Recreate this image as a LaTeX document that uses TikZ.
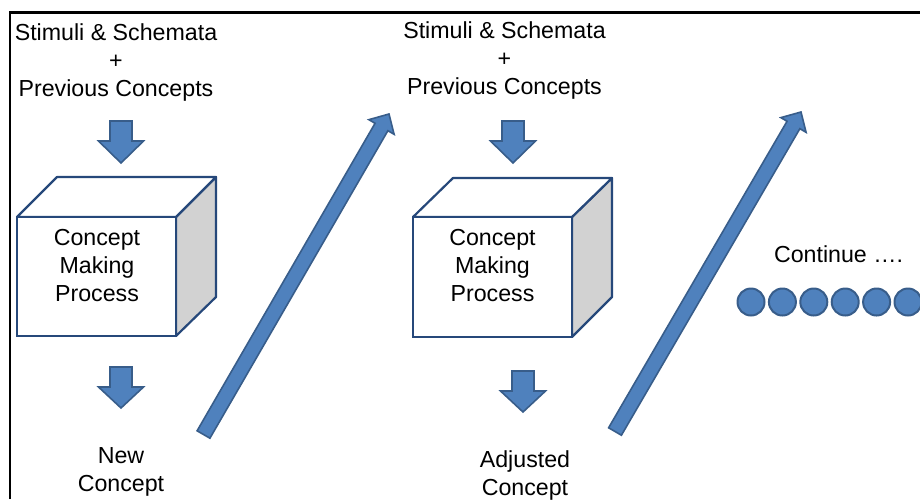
\documentclass[tikz,border=0pt]{standalone}
\usepackage{fontspec}
\setmainfont{Liberation Sans}
\usetikzlibrary{calc}
\usetikzlibrary{positioning}

\definecolor{arrfill}{RGB}{79,129,189}
\definecolor{arrline}{RGB}{56,93,138}
\definecolor{cubeline}{RGB}{38,72,122}
\definecolor{cubeside}{RGB}{210,210,210}

\tikzset{
  txt/.style={align=center, inner sep=0pt, font=\fontsize{11.6}{14}\selectfont},
  blockarr/.style={fill=arrfill, draw=arrline, line width=0.8pt, line join=miter},
  face/.style={draw=cubeline, line width=1.1pt, fill=white, inner sep=0pt},
  dot/.style={circle, fill=arrfill, draw=arrline, line width=1pt, minimum size=13.5pt, inner sep=0pt},
}

% block arrow: tail, tip, shaft half width, head half width, head length
\newcommand{\blockarrow}[5]{%
  \coordinate (#2-base) at ($(#2)!#5!(#1)$);
  \draw[blockarr] ($(#1)!#3!90:(#2)$) -- ($(#2-base)!#3!90:(#2)$)
    -- ($(#2-base)!#4!90:(#2)$) -- (#2) -- ($(#2-base)!#4!-90:(#2)$)
    -- ($(#2-base)!#3!-90:(#2)$) -- ($(#1)!#3!-90:(#2)$) -- cycle;}

\begin{document}
\begin{tikzpicture}[x=0.5pt, y=-0.5pt]
    \useasboundingbox (0,0) rectangle (920,499);
    \draw[line width=1.3pt] (10,499) |- (920,12.5);

    % first step
    \node[txt] (in1) at (116,62) {Stimuli \& Schemata\\+\\Previous Concepts};
    \coordinate (a1top) at (121,121); \coordinate (a1tip) at (121,163);
    \blockarrow{a1top}{a1tip}{5.5pt}{11.25pt}{11pt}
    \fill[cubeside, draw=cubeline, line width=1.1pt, line join=round]
      (176,217) -- (216,177) -- (216,297) -- (176,336) -- cycle;
    \draw[fill=white, draw=cubeline, line width=1.1pt, line join=round]
      (17,217) -- (57,177) -- (216,177) -- (176,217) -- cycle;
    \node[face, minimum width=79.5pt, minimum height=59.5pt] (face1) at (96.5,276.5) {};
    \node[txt] (proc1) at (97,265.5) {Concept\\Making\\Process};
    \coordinate (a2top) at (121,367); \coordinate (a2tip) at (121,408);
    \blockarrow{a2top}{a2tip}{5.5pt}{11.25pt}{10.5pt}
    \node[txt] (out1) at (121,471.5) {New\\Concept};
    \coordinate (d1tail) at (203.5,434.5); \coordinate (d1tip) at (389,114);
    \blockarrow{d1tail}{d1tip}{3.7pt}{7.3pt}{7.5pt}

    % second step
    \node[txt] (in2) at (504.5,60.5) {Stimuli \& Schemata\\+\\Previous Concepts};
    \coordinate (a3top) at (513,121); \coordinate (a3tip) at (513,163);
    \blockarrow{a3top}{a3tip}{5.5pt}{11.25pt}{11pt}
    \fill[cubeside, draw=cubeline, line width=1.1pt, line join=round]
      (572,217) -- (612,178) -- (612,297) -- (572,337) -- cycle;
    \draw[fill=white, draw=cubeline, line width=1.1pt, line join=round]
      (413,217) -- (453,178) -- (612,178) -- (572,217) -- cycle;
    \node[face, minimum width=79.5pt, minimum height=60pt] (face2) at (492.5,277) {};
    \node[txt] (proc2) at (492.5,265.5) {Concept\\Making\\Process};
    \coordinate (a4top) at (523,371); \coordinate (a4tip) at (523,412);
    \blockarrow{a4top}{a4tip}{5.5pt}{11.25pt}{10.5pt}
    \node[txt] (out2) at (525,475.5) {Adjusted\\Concept};
    \coordinate (d2tail) at (615,431.5); \coordinate (d2tip) at (801,112);
    \blockarrow{d2tail}{d2tip}{3.7pt}{7.3pt}{7.5pt}

    % and so on
    \node[txt] (cont) at (838.5,254) {Continue ….};
    \foreach \i in {1,...,6}
      \node[dot] (c\i) at ({751+31.4*(\i-1)},302) {};
\end{tikzpicture}
\end{document}
